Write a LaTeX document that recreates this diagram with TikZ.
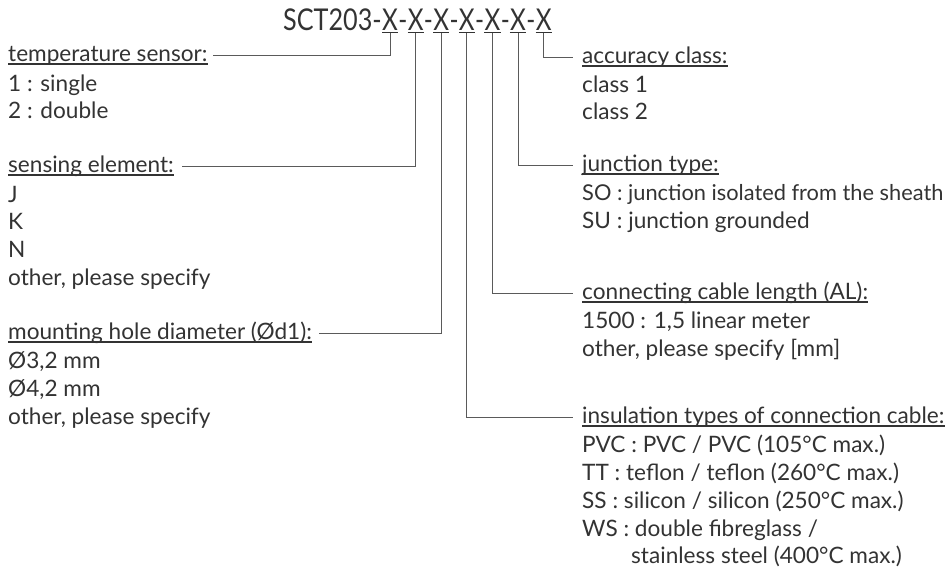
\documentclass[tikz,border=0pt]{standalone}
\usepackage{fontspec}
\setmainfont{Lato}
\newfontfamily\ttlfont{Lato}[FakeStretch=0.84]
\newfontfamily\ttlxfont{Lato}[FakeStretch=0.81]
\definecolor{txt}{HTML}{333333}
\definecolor{ln}{HTML}{5A5A5A}
\tikzset{
  lbl/.style={inner sep=0pt, anchor=base west, text=txt, font=\fontsize{22.6}{26}\selectfont},
  ttl/.style={inner sep=0pt, anchor=base west, text=txt, font=\ttlfont\fontsize{30}{34}\selectfont},
  ttlx/.style={inner sep=0pt, anchor=base west, text=txt, font=\ttlxfont\fontsize{30}{34}\selectfont},
  conn/.style={draw=ln, line width=0.9pt},
  uline/.style={draw=txt, line width=1.3pt},
}
\begin{document}
\begin{tikzpicture}[x=1pt,y=-1pt]
\useasboundingbox[fill=white] (0,0) rectangle (952,576);
% title
\node[ttl] (t0) at (283,30) {SCT203-};
\node[ttlx] (x1) at (t0.base east) {X};
\node[ttlx] (d1) at (x1.base east) {-};
\node[ttlx] (x2) at (d1.base east) {X};
\node[ttlx] (d2) at (x2.base east) {-};
\node[ttlx] (x3) at (d2.base east) {X};
\node[ttlx] (d3) at (x3.base east) {-};
\node[ttlx] (x4) at (d3.base east) {X};
\node[ttlx] (d4) at (x4.base east) {-};
\node[ttlx] (x5) at (d4.base east) {X};
\node[ttlx] (d5) at (x5.base east) {-};
\node[ttlx] (x6) at (d5.base east) {X};
\node[ttlx] (d6) at (x6.base east) {-};
\node[ttlx] (x7) at (d6.base east) {X};
\foreach \i in {1,...,7}{
  \draw[uline] ([yshift=-2.5pt]x\i.base west) -- ([yshift=-2.5pt]x\i.base east);
  \coordinate (u\i) at ([yshift=-2.5pt]x\i.base);
}
% left column
\node[lbl] (hT) at (8,61) {temperature sensor:};
\node[lbl] (t1) at (8,91) {1 : single};
\node[lbl] (t2) at (8,118) {2 : double};
\node[lbl] (hS) at (8,172) {sensing element:};
\node[lbl] (s1) at (8,202) {J};
\node[lbl] (s2) at (8,229) {K};
\node[lbl] (s3) at (8,257) {N};
\node[lbl] (s4) at (8,285) {other, please specify};
\node[lbl] (hM) at (8,339) {mounting hole diameter (Ød1):};
\node[lbl] (m1) at (8,368) {Ø3,2 mm};
\node[lbl] (m2) at (8,396) {Ø4,2 mm};
\node[lbl] (m3) at (8,424) {other, please specify};
% right column
\node[lbl] (hA) at (582,63) {accuracy class:};
\node[lbl] (a1) at (582,92) {class 1};
\node[lbl] (a2) at (582,119) {class 2};
\node[lbl] (hJ) at (582,171) {junction type:};
\node[lbl, font=\fontsize{21.8}{26}\selectfont] (j1) at (582,200) {SO : junction isolated from the sheath};
\node[lbl] (j2) at (582,228) {SU : junction grounded};
\node[lbl] (hC) at (582,299) {connecting cable length (AL):};
\node[lbl] (c1) at (582,328) {1500 : 1,5 linear meter};
\node[lbl] (c2) at (582,356) {other, please specify [mm]};
\node[lbl] (hI) at (582,423) {insulation types of connection cable:};
\node[lbl] (i1) at (582,452) {PVC : PVC / PVC (105°C max.)};
\node[lbl] (i2) at (582,480) {TT : teflon / teflon (260°C max.)};
\node[lbl] (i3) at (582,508) {SS : silicon / silicon (250°C max.)};
\node[lbl] (i4) at (582,536) {WS : double fibreglass /};
\node[lbl] (i5) at (631,563) {stainless steel (400°C max.)};
% heading underlines
\foreach \h in {hT,hS,hM,hA,hJ,hC,hI}{
  \draw[uline] ([yshift=-3pt]\h.base west) -- ([yshift=-3pt]\h.base east);
}
% connector ends
\coordinate (eT) at ([xshift=5pt,yshift=6pt]hT.base east);
\coordinate (eS) at ([xshift=8pt,yshift=6pt]hS.base east);
\coordinate (eM) at ([xshift=7pt,yshift=6pt]hM.base east);
\coordinate (eA) at ([xshift=-9pt,yshift=6pt]hA.base west);
\coordinate (eJ) at ([xshift=-9pt,yshift=6pt]hJ.base west);
\coordinate (eC) at ([xshift=-9pt,yshift=6pt]hC.base west);
\coordinate (eI) at ([xshift=-9pt,yshift=6pt]hI.base west);
\draw[conn] (u1) |- (eT);
\draw[conn] (u2) |- (eS);
\draw[conn] (u3) |- (eM);
\draw[conn] (u4) |- (eI);
\draw[conn] (u5) |- (eC);
\draw[conn] (u6) |- (eJ);
\draw[conn] (u7) |- (eA);
\end{tikzpicture}
\end{document}
